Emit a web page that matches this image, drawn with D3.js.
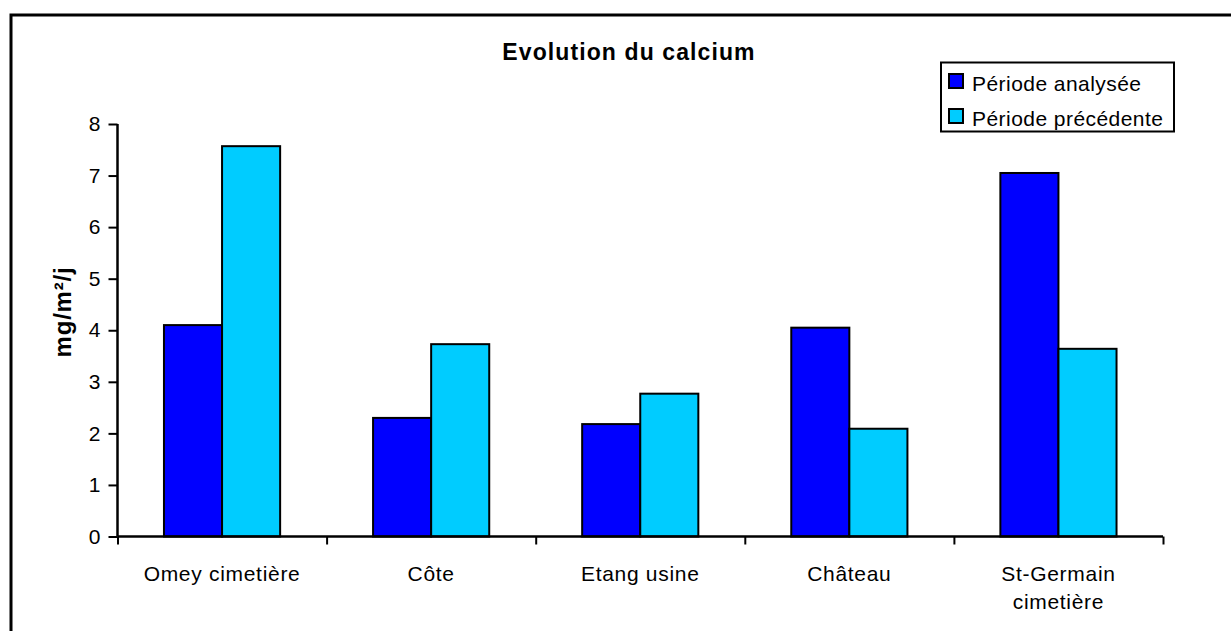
<!DOCTYPE html>
<html>
<head>
<meta charset="utf-8">
<script src="https://cdn.jsdelivr.net/npm/d3@7"></script>
<style>
  body { margin: 0; background: #fff; }
  svg { display: block; font-family: Arial, "Liberation Sans", sans-serif; }
</style>
</head>
<body>
<svg id="chart"></svg>
<script>
// data
const categories = ["Omey cimetière", "Côte", "Etang usine", "Château", "St-Germain cimetière"];
const xTickLabels = [["Omey cimetière"], ["Côte"], ["Etang usine"], ["Château"], ["St-Germain", "cimetière"]];
const seriesNames = ["Période analysée", "Période précédente"];
const analysee = [4.10, 2.30, 2.18, 4.05, 7.05];
const precedente = [7.57, 3.73, 2.77, 2.09, 3.64];
const yTicks = [0, 1, 2, 3, 4, 5, 6, 7, 8];
const colors = ["#0000ff", "#00ccff"];

const width = 1231, height = 631;
const svg = d3.select("#chart").attr("width", width).attr("height", height);

// outer chart frame (runs off right / bottom edge)
svg.append("rect")
  .attr("x", 11).attr("y", 15)
  .attr("width", 1240).attr("height", 640)
  .attr("fill", "#fff").attr("stroke", "#000").attr("stroke-width", 3);

const plot = {left: 117.5, right: 1163, top: 124, bottom: 536.5};

const x = d3.scaleBand().domain(categories).range([plot.left, plot.right]).padding(0);
const xs = d3.scaleBand().domain(seriesNames).range([0, x.bandwidth()]).paddingInner(0).paddingOuter(0.8);
const y = d3.scaleLinear().domain([0, 8]).range([plot.bottom, plot.top]);

const table = categories.map((c, i) => ({cat: c, vals: [analysee[i], precedente[i]]}));

// bars
const groups = svg.append("g").selectAll("g")
  .data(table).join("g")
  .attr("transform", d => `translate(${x(d.cat)},0)`);

groups.selectAll("rect")
  .data(d => d.vals.map((v, k) => ({s: seriesNames[k], v, k})))
  .join("rect")
  .attr("x", d => xs(d.s))
  .attr("width", xs.bandwidth())
  .attr("y", d => y(d.v))
  .attr("height", d => y(0) - y(d.v))
  .attr("fill", d => colors[d.k])
  .attr("stroke", "#000")
  .attr("stroke-width", 2);

// y axis
const yAxis = svg.append("g")
  .attr("transform", `translate(${plot.left},0)`)
  .call(d3.axisLeft(y).tickValues(yTicks).tickSize(9).tickPadding(8).tickFormat(d3.format("d")));
yAxis.select(".domain").attr("stroke-width", 2.5).attr("d", `M0,${plot.top}V${plot.bottom}`);
yAxis.selectAll(".tick line").attr("stroke-width", 2);
yAxis.selectAll(".tick text").attr("font-size", 21).attr("fill", "#000")
  .attr("font-family", "Arial, 'Liberation Sans', sans-serif");

// x axis: ticks at category boundaries
const xb = d3.scaleLinear().domain([0, categories.length]).range([plot.left, plot.right]);
const xAxis = svg.append("g")
  .attr("transform", `translate(0,${plot.bottom})`)
  .call(d3.axisBottom(xb).ticks(categories.length).tickSize(8).tickFormat(""));
xAxis.select(".domain").attr("stroke-width", 2.5).attr("d", `M${plot.left},0H${plot.right}`);
xAxis.selectAll(".tick line").attr("stroke-width", 2);

// category labels
const labels = svg.append("g").selectAll("text")
  .data(categories).join("text")
  .attr("x", d => x(d) + x.bandwidth() / 2)
  .attr("y", 581)
  .attr("text-anchor", "middle")
  .attr("font-size", 21)
  .attr("letter-spacing", 0.7)
  .attr("fill", "#000");
labels.each(function(d, i) {
  d3.select(this).selectAll("tspan")
    .data(xTickLabels[i]).join("tspan")
    .attr("x", x(d) + x.bandwidth() / 2)
    .attr("dy", (t, j) => j === 0 ? 0 : 28)
    .text(t => t);
});

// title
svg.append("text")
  .attr("x", 629).attr("y", 60)
  .attr("text-anchor", "middle")
  .attr("font-size", 23).attr("font-weight", "bold")
  .attr("letter-spacing", 1.1)
  .text("Evolution du calcium");

// y axis title
svg.append("text")
  .attr("transform", "translate(71,312) rotate(-90)")
  .attr("text-anchor", "middle")
  .attr("font-size", 24).attr("font-weight", "bold")
  .attr("letter-spacing", 0.8)
  .text("mg/m²/j");

// legend
const legend = svg.append("g");
legend.append("rect")
  .attr("x", 941).attr("y", 62.5).attr("width", 233).attr("height", 69)
  .attr("fill", "#fff").attr("stroke", "#000").attr("stroke-width", 2);
const items = legend.selectAll("g.item")
  .data(seriesNames).join("g").attr("class", "item")
  .attr("transform", (d, i) => `translate(949,${74 + i * 35})`);
items.append("rect")
  .attr("width", 14).attr("height", 14)
  .attr("fill", (d, i) => colors[i]).attr("stroke", "#000").attr("stroke-width", 2);
items.append("text")
  .attr("x", 23).attr("y", 17)
  .attr("font-size", 21)
  .attr("letter-spacing", 0.45)
  .text(d => d);
</script>
</body>
</html>
